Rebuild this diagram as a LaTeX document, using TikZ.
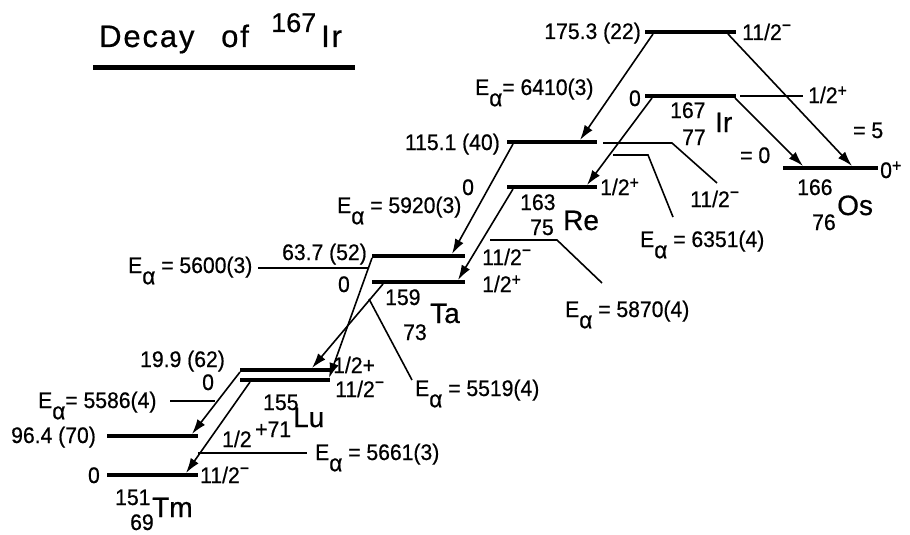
\documentclass[tikz,border=0pt]{standalone}
\usepackage{fontspec}
\setmainfont{Liberation Sans}[FakeBold=0.6]
\newfontfamily\labf{Liberation Sans}[FakeStretch=0.94,FakeBold=0.6]
\usetikzlibrary{arrows.meta}
\newcommand\al{\raisebox{-0.5em}{\fontsize{24}{24}\selectfont α}}
\newcommand\spm{\raisebox{0.4em}{\fontsize{17}{17}\selectfont −}}
\newcommand\spp{\raisebox{0.3em}{\fontsize{17}{17}\selectfont +}}
\begin{document}
\begin{tikzpicture}[x=1pt,y=-1pt,
 lvl/.style={line width=4.8pt},
 lvlb/.style={line width=3.4pt},
 leader/.style={line width=1.6pt},
 decay/.style={line width=1.6pt,-{Latex[length=15pt,width=9.5pt]}},
 lab/.style={inner sep=0pt,font=\labf\fontsize{22.5}{26}\selectfont},
 elem/.style={inner sep=0pt,font=\fontsize{28}{32}\selectfont},
 ttl/.style={inner sep=0pt,anchor=base west,font=\fontsize{31}{34}\selectfont\addfontfeatures{LetterSpace=6}}]
\useasboundingbox (0,0) rectangle (910,535);
% title
\node[ttl] (t1) at (99,47) {Decay};
\node[ttl] (t2) at (221,47) {of};
\node[inner sep=0pt,anchor=base west,font=\fontsize{27}{30}\selectfont] (t3) at (271,32) {167};
\node[ttl] (t4) at (321,47) {Ir};
\coordinate (u1) at (93,68); \coordinate (u2) at (355,68);
\draw[line width=5pt] (u1) -- (u2);
% level end points
\coordinate (irhL) at (645,32); \coordinate (irhR) at (736,32);
\coordinate (ir0L) at (645,96); \coordinate (ir0R) at (736,96);
\coordinate (os0L) at (783,168); \coordinate (os0R) at (878,168);
\coordinate (re1L) at (507,142); \coordinate (re1R) at (597,142);
\coordinate (re0L) at (507,187); \coordinate (re0R) at (597,187);
\coordinate (ta1L) at (372,256); \coordinate (ta1R) at (465,256);
\coordinate (ta0L) at (372,282); \coordinate (ta0R) at (465,282);
\coordinate (lu1L) at (240,370); \coordinate (lu1R) at (330,370);
\coordinate (lu0L) at (240,380); \coordinate (lu0R) at (330,380);
\coordinate (tm1L) at (107,436); \coordinate (tm1R) at (198,436);
\coordinate (tm0L) at (107,475); \coordinate (tm0R) at (198,475);
\draw[lvl] (irhL) -- (irhR);
\draw[lvl] (ir0L) -- (ir0R);
\draw[lvl] (os0L) -- (os0R);
\draw[lvl] (re1L) -- (re1R);
\draw[lvl] (re0L) -- (re0R);
\draw[lvl] (ta1L) -- (ta1R);
\draw[lvl] (ta0L) -- (ta0R);
\draw[lvl] (lu1L) -- (lu1R);
\draw[lvlb] (lu0L) -- (lu0R);
\draw[lvl] (tm1L) -- (tm1R);
\draw[lvl] (tm0L) -- (tm0R);
% decay arrows
\coordinate (a1s) at (653,34);  \coordinate (a1e) at (580,140);
\coordinate (a2s) at (652,98);  \coordinate (a2e) at (587,185);
\coordinate (a3s) at (728,34);  \coordinate (a3e) at (852,166);
\coordinate (a4s) at (735,98);  \coordinate (a4e) at (803,166);
\coordinate (a5s) at (513,144); \coordinate (a5e) at (452,254);
\coordinate (a6s) at (513,189); \coordinate (a6e) at (458,280);
\coordinate (a7s) at (372,258); \coordinate (a7e) at (329,378);
\coordinate (a8s) at (383,284); \coordinate (a8e) at (312,368);
\coordinate (a9s) at (240,372); \coordinate (a9e) at (192,434);
\coordinate (a10s) at (250,382); \coordinate (a10e) at (186,473);
\foreach \i in {1,...,10} {\draw[decay] (a\i s) -- (a\i e);}
% leader lines
\coordinate (l1a) at (740,96); \coordinate (l1b) at (803,96);
\coordinate (l2a) at (603,143); \coordinate (l2b) at (672,143); \coordinate (l2c) at (717,183);
\coordinate (l3a) at (613,155); \coordinate (l3b) at (648,155); \coordinate (l3c) at (673,217);
\coordinate (l4a) at (490,240); \coordinate (l4b) at (557,240); \coordinate (l4c) at (602,283);
\coordinate (l5a) at (258,268); \coordinate (l5b) at (368,268);
\coordinate (l6a) at (369,299); \coordinate (l6b) at (412,380);
\coordinate (l7a) at (170,401); \coordinate (l7b) at (215,401);
\coordinate (l8a) at (198,453); \coordinate (l8b) at (307,453);
\draw[leader] (l1a) -- (l1b);
\draw[leader] (l2a) -- (l2b) -- (l2c);
\draw[leader] (l3a) -- (l3b) -- (l3c);
\draw[leader] (l4a) -- (l4b) -- (l4c);
\draw[leader] (l5a) -- (l5b);
\draw[leader] (l6a) -- (l6b);
\draw[leader] (l7a) -- (l7b);
\draw[leader] (l8a) -- (l8b);
% Ir labels
\node[lab,anchor=base east] (irhE) at (641,39) {175.3 (22)};
\node[lab,anchor=base west] (irhJ) at (742,40) {11/2\spm};
\node[lab,anchor=base east] (ir0E) at (641,106) {0};
\node[lab,anchor=base west] (ir0J) at (808,103) {1/2\spp};
\node[lab,anchor=base west] (irA) at (670,118) {167};
\node[lab,anchor=base west] (irZ) at (682,145) {77};
\node[elem,anchor=base west] (irS) at (715,132) {Ir};
\node[lab,anchor=base west] (ea1) at (475,95) {E\al{}= 6410(3)};
% Os labels
\node[lab,anchor=base west] (os0J) at (880,178) {0\spp};
\node[lab,anchor=base west] (osA) at (797,195) {166};
\node[lab,anchor=base west] (osZ) at (812,230) {76};
\node[elem,anchor=base west] (osS) at (837,215) {Os};
\node[lab,anchor=base west] (eq5) at (853,138) {= 5};
\node[lab,anchor=base west] (eq0) at (740,163) {= 0};
% Re labels
\node[lab,anchor=base east] (re1E) at (500,150) {115.1 (40)};
\node[lab,anchor=base west] (re1J) at (690,207) {11/2\spm};
\node[lab,anchor=base west] (re0E) at (462,195) {0};
\node[lab,anchor=base west] (re0J) at (600,195) {1/2\spp};
\node[lab,anchor=base west] (reA) at (520,210) {163};
\node[lab,anchor=base west] (reZ) at (530,235) {75};
\node[elem,anchor=base west] (reS) at (563,230) {Re};
\node[lab,anchor=base west] (ea2) at (640,247) {E\al{} = 6351(4)};
\node[lab,anchor=base west] (ea3) at (565,317) {E\al{} = 5870(4)};
\node[lab,anchor=base west] (ea4) at (337,213) {E\al{} = 5920(3)};
% Ta labels
\node[lab,anchor=base east] (ta1E) at (367,260) {63.7 (52)};
\node[lab,anchor=base west] (ta1J) at (482,265) {11/2\spm};
\node[lab,anchor=base west] (ta0J) at (482,292) {1/2\spp};
\node[lab,anchor=base east] (ta0E) at (350,292) {0};
\node[lab,anchor=base west] (taA) at (385,305) {159};
\node[lab,anchor=base west] (taZ) at (403,340) {73};
\node[elem,anchor=base west] (taS) at (430,323) {Ta};
\node[lab,anchor=base west] (ea5) at (128,273) {E\al{} = 5600(3)};
\node[lab,anchor=base west] (ea6) at (415,396) {E\al{} = 5519(4)};
% Lu labels
\node[lab,anchor=base west] (lu1E) at (140,367) {19.9 (62)};
\node[lab,anchor=base west] (lu0E) at (202,390) {0};
\node[lab,anchor=base west] (lu1J) at (333,373) {1/2+};
\node[lab,anchor=base west] (lu0J) at (335,397) {11/2\spm};
\node[lab,anchor=base west] (luA) at (263,410) {155};
\node[elem,anchor=base west] (luS) at (293,427) {Lu};
\node[lab,anchor=base west] (luH) at (222,447) {1/2};
\node[lab,anchor=base west] (luZ) at (255,437) {+71};
\node[lab,anchor=base west] (ea7) at (38,408) {E\al{}= 5586(4)};
% Tm labels
\node[lab,anchor=base west] (tm1E) at (11,443) {96.4 (70)};
\node[lab,anchor=base east] (tm0E) at (100,483) {0};
\node[lab,anchor=base west] (tm0J) at (200,483) {11/2\spm};
\node[lab,anchor=base west] (tmA) at (115,505) {151};
\node[lab,anchor=base west] (tmZ) at (130,530) {69};
\node[elem,anchor=base west] (tmS) at (152,517) {Tm};
\node[lab,anchor=base west] (ea8) at (315,460) {E\al{} = 5661(3)};
\end{tikzpicture}
\end{document}
